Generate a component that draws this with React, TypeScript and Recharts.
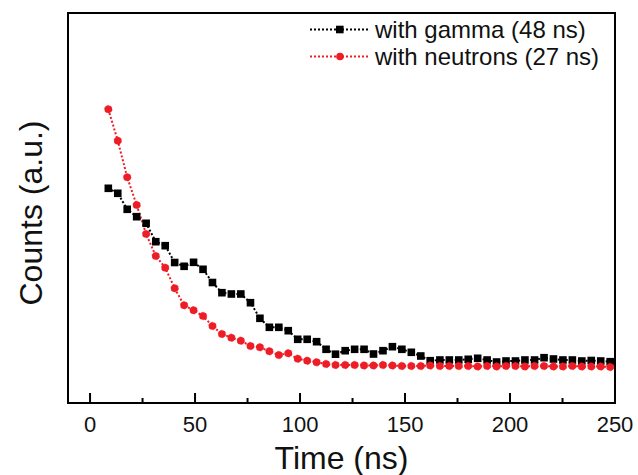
import { Legend, Line, LineChart, ReferenceArea, XAxis, YAxis } from "recharts"

const TIME_NS = [
  8.7, 13.2, 17.7, 22.2, 26.7, 31.3, 35.8, 40.3, 44.8, 49.3, 53.8, 58.3, 62.8, 67.3, 71.8, 76.4, 80.9, 85.4,
  89.9, 94.4, 98.9, 103.4, 107.9, 112.4, 116.9, 121.5, 126.0, 130.5, 135.0, 139.5, 144.0, 148.5, 153.0, 157.5,
  162.0, 166.6, 171.1, 175.6, 180.1, 184.6, 189.1, 193.6, 198.1, 202.6, 207.1, 211.7, 216.2, 220.7, 225.2,
  229.7, 234.2, 238.7, 243.2, 247.7,
]

const GAMMA = [
  214.7, 209.7, 193.7, 186.3, 179.7, 161.3, 157.3, 140.5, 136.7, 140.7, 133.7, 120.5, 110.3, 109, 109, 100.3,
  84.7, 75.7, 75.7, 72.3, 63.7, 63.7, 61.3, 53.7, 48.8, 52.3, 53.7, 53.7, 49, 52.3, 56.3, 53.7, 50.7, 47, 42.3,
  43, 43, 43, 43.7, 44.7, 43, 41, 42, 42, 43, 43, 45.3, 44, 43, 43, 42, 42.5, 42, 41.3,
]

const NEUTRONS = [
  293.7, 262.3, 225.7, 198, 169, 147, 135.3, 114.7, 97.7, 92.7, 87, 77, 69, 65.3, 62.3, 57, 55.7, 51.7, 48,
  49.7, 44.3, 42.3, 40.7, 39, 38, 38, 38, 37.5, 37.5, 38, 37.5, 37, 37, 37, 37.5, 37, 37, 37, 37, 36.5, 37,
  36.5, 37, 37, 36.5, 37, 37, 36.5, 36.5, 37, 36.5, 36.5, 36.5, 36,
]

const X_TICKS = [0, 25, 50, 75, 100, 125, 150, 175, 200, 225, 250]
const X_DOMAIN = [-10.5, 250]
const Y_DOMAIN = [0, 390]

const SERIES = [
  { key: "gamma", name: "with gamma (48 ns)", color: "#000000", shape: "square" },
  { key: "neutrons", name: "with neutrons (27 ns)", color: "#ee1c25", shape: "circle" },
]

const FONT = "'Liberation Sans', Arial, sans-serif"

const data = TIME_NS.map((t, i) => ({ t, gamma: GAMMA[i], neutrons: NEUTRONS[i] }))

const SquareDot = (props: any) => {
  const { cx, cy, index } = props
  if (cx == null || cy == null) return null
  return <rect key={`sq-${index}`} x={cx - 3.8} y={cy - 3.8} width={7.6} height={7.6} fill="#000000" />
}

const TimeTick = (props: any) => {
  const { x, y, payload } = props
  const major = payload.value % 50 === 0
  return (
    <g>
      <line x1={x} x2={x} y1={y} y2={y - (major ? 10 : 5)} stroke="#000" strokeWidth={2} />
      {major && (
        <text x={x} y={y + 29} textAnchor="middle" fontSize={22} fontFamily={FONT} fill="#111">
          {payload.value}
        </text>
      )}
    </g>
  )
}

const LegendRows = () => (
  <div style={{ fontFamily: FONT, fontSize: 24, color: "#111" }}>
    {SERIES.map((s) => (
      <div key={s.key} style={{ display: "flex", alignItems: "center", height: 27, whiteSpace: "nowrap" }}>
        <svg width={60} height={27} style={{ marginRight: 7 }}>
          <line x1={2} x2={60} y1={13.5} y2={13.5} stroke={s.color} strokeWidth={2} strokeDasharray="2 2" />
          {s.shape === "square" ? (
            <rect x={28} y={9.7} width={7.6} height={7.6} fill={s.color} />
          ) : (
            <circle cx={32} cy={13.5} r={3.8} fill={s.color} />
          )}
        </svg>
        <span>{s.name}</span>
      </div>
    ))}
  </div>
)

export default function App() {
  return (
    <div style={{ position: "absolute", left: 0, top: 0, width: 638, height: 475, background: "#fff" }}>
      <LineChart width={638} height={475} data={data} margin={{ top: 13, right: 23, left: 0, bottom: 0 }}>
        <XAxis
          dataKey="t"
          type="number"
          domain={X_DOMAIN}
          ticks={X_TICKS}
          interval={0}
          height={72}
          tickSize={0}
          tickMargin={0}
          tickLine={false}
          axisLine={false}
          tick={<TimeTick />}
          label={{
            content: ({ viewBox }: any) => (
              <text
                x={viewBox.x + viewBox.width / 2}
                y={viewBox.y + 66}
                textAnchor="middle"
                fontSize={32}
                fontFamily={FONT}
                fill="#111"
              >
                Time (ns)
              </text>
            ),
          }}
        />
        <YAxis
          type="number"
          domain={Y_DOMAIN}
          width={68}
          tick={false}
          tickLine={false}
          axisLine={false}
          label={{
            content: ({ viewBox }: any) => {
              const cx = viewBox.x + 42
              const cy = viewBox.y + viewBox.height / 2 + 5
              return (
                <text
                  x={cx}
                  y={cy}
                  transform={`rotate(-90 ${cx} ${cy})`}
                  textAnchor="middle"
                  fontSize={32}
                  fontFamily={FONT}
                  fill="#111"
                >
                  Counts (a.u.)
                </text>
              )
            },
          }}
        />
        <ReferenceArea
          x1={X_DOMAIN[0]}
          x2={X_DOMAIN[1]}
          y1={Y_DOMAIN[0]}
          y2={Y_DOMAIN[1]}
          fill="none"
          stroke="#000"
          strokeWidth={2}
          ifOverflow="visible"
        />
        <Line
          dataKey="gamma"
          name={SERIES[0].name}
          stroke={SERIES[0].color}
          strokeWidth={2}
          strokeDasharray="2 2"
          type="linear"
          dot={<SquareDot />}
          activeDot={false}
          isAnimationActive={false}
        />
        <Line
          dataKey="neutrons"
          name={SERIES[1].name}
          stroke={SERIES[1].color}
          strokeWidth={2}
          strokeDasharray="2 2"
          type="linear"
          dot={{ r: 3.8, fill: SERIES[1].color, stroke: SERIES[1].color, strokeWidth: 0.5 }}
          activeDot={false}
          isAnimationActive={false}
        />
        <Legend
          layout="horizontal"
          verticalAlign="middle"
          align="center"
          content={<LegendRows />}
          wrapperStyle={{ top: 16, left: 308, width: 310 }}
        />
      </LineChart>
    </div>
  )
}
